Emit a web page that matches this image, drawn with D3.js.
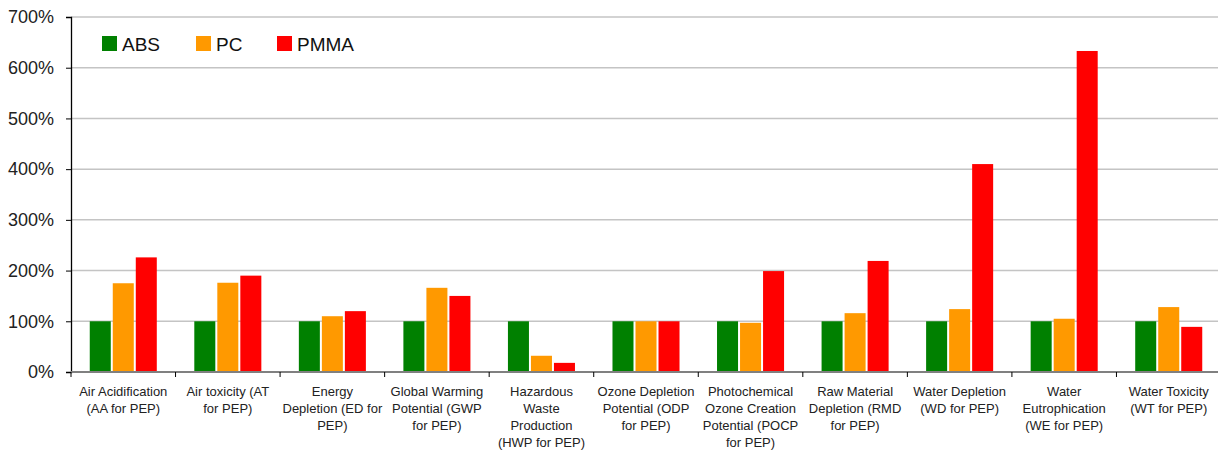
<!DOCTYPE html>
<html>
<head>
<meta charset="utf-8">
<script src="https://cdn.jsdelivr.net/npm/d3@7"></script>
<style>
  body { margin: 0; background: #fff; }
  svg { display: block; font-family: "Liberation Sans", Arial, sans-serif; }
</style>
</head>
<body>
<div id="chart"></div>
<script>
// Categories (line breaks as in the original labels)
const categories = [
  ["Air Acidification", "(AA for PEP)"],
  ["Air toxicity (AT", "for PEP)"],
  ["Energy", "Depletion (ED for", "PEP)"],
  ["Global Warming", "Potential (GWP", "for PEP)"],
  ["Hazardous", "Waste", "Production", "(HWP for PEP)"],
  ["Ozone Depletion", "Potential (ODP", "for PEP)"],
  ["Photochemical", "Ozone Creation", "Potential (POCP", "for PEP)"],
  ["Raw Material", "Depletion (RMD", "for PEP)"],
  ["Water Depletion", "(WD for PEP)"],
  ["Water", "Eutrophication", "(WE for PEP)"],
  ["Water Toxicity", "(WT for PEP)"]
];

const seriesNames = ["ABS", "PC", "PMMA"];
const seriesColors = ["#008000", "#ff9900", "#ff0000"];

// values in percent
const absValues  = [100, 100, 100, 100, 100, 100, 100, 100, 100, 100, 100];
const pcValues   = [175, 176, 110, 166, 32, 100, 97, 116, 124, 105, 128];
const pmmaValues = [226, 190, 120, 150, 18, 100, 199, 219, 410, 633, 89];

const yTicks = [0, 100, 200, 300, 400, 500, 600, 700];

const W = 1220, H = 450;
const margin = {top: 17, right: 0, bottom: 78, left: 71};
const width = 1221 - margin.left;
const height = 372 - margin.top;

const svg = d3.select("#chart").append("svg")
  .attr("width", W)
  .attr("height", H);

const g = svg.append("g")
  .attr("transform", `translate(${margin.left},${margin.top})`);

const x = d3.scaleBand()
  .domain(d3.range(categories.length))
  .range([0, width]);

const xs = d3.scaleBand()
  .domain(seriesNames)
  .range([0, x.bandwidth()])
  .paddingInner(0.087)
  .paddingOuter(0.815);

const y = d3.scaleLinear().domain([0, 700]).range([height, 0]);

// gridlines
g.selectAll("line.grid")
  .data(yTicks.filter(d => d > 0))
  .enter().append("line")
  .attr("class", "grid")
  .attr("x1", 0).attr("x2", 1218 - margin.left)
  .attr("y1", d => y(d)).attr("y2", d => y(d))
  .attr("stroke", "#c4c4c4")
  .attr("stroke-width", 1.5);

// bars
const data = categories.map((c, i) => ({
  i,
  vals: [absValues[i], pcValues[i], pmmaValues[i]]
}));

const groups = g.selectAll("g.cat")
  .data(data)
  .enter().append("g")
  .attr("transform", d => `translate(${x(d.i)},0)`);

groups.selectAll("rect")
  .data(d => d.vals.map((v, k) => ({name: seriesNames[k], v, k})))
  .enter().append("rect")
  .attr("x", d => xs(d.name))
  .attr("width", xs.bandwidth())
  .attr("y", d => y(d.v))
  .attr("height", d => height - y(d.v))
  .attr("fill", d => seriesColors[d.k]);

// y axis
const yAxis = g.append("g")
  .call(d3.axisLeft(y).tickValues(yTicks).tickFormat(d => d + "%").tickSize(5).tickPadding(12));
yAxis.select(".domain").attr("stroke", "#000").attr("stroke-width", 1.3);
yAxis.selectAll(".tick line").attr("stroke", "#000");
yAxis.selectAll("text")
  .attr("font-size", "18px")
  .attr("font-family", "Liberation Sans, Arial, sans-serif")
  .attr("fill", "#222");

// x axis line
g.append("line")
  .attr("x1", 0).attr("x2", 1218 - margin.left)
  .attr("y1", height).attr("y2", height)
  .attr("stroke", "#808080")
  .attr("stroke-width", 2);

// x ticks at band boundaries
g.selectAll("line.xtick")
  .data(d3.range(categories.length + 1))
  .enter().append("line")
  .attr("x1", d => d * x.step()).attr("x2", d => d * x.step())
  .attr("y1", height).attr("y2", height + 5)
  .attr("stroke", "#000")
  .attr("stroke-width", 1);

// category labels
const labels = g.selectAll("text.cat")
  .data(categories)
  .enter().append("text")
  .attr("class", "cat")
  .attr("text-anchor", "middle")
  .attr("font-size", "13px")
  .attr("fill", "#222")
  .attr("transform", (d, i) => `translate(${x(i) + x.bandwidth() / 2},${height + 24})`);

labels.selectAll("tspan")
  .data(d => d)
  .enter().append("tspan")
  .attr("x", 0)
  .attr("y", (d, j) => j * 16.9)
  .text(d => d);

// legend
const legendX = [102, 196, 277];
const legend = svg.selectAll("g.legend")
  .data(seriesNames)
  .enter().append("g")
  .attr("transform", (d, i) => `translate(${legendX[i]},36)`);
legend.append("rect")
  .attr("width", 15).attr("height", 15)
  .attr("fill", (d, i) => seriesColors[i]);
legend.append("text")
  .attr("x", 20).attr("y", 14.5)
  .attr("font-size", "19px")
  .attr("fill", "#111")
  .text(d => d);
</script>
</body>
</html>
